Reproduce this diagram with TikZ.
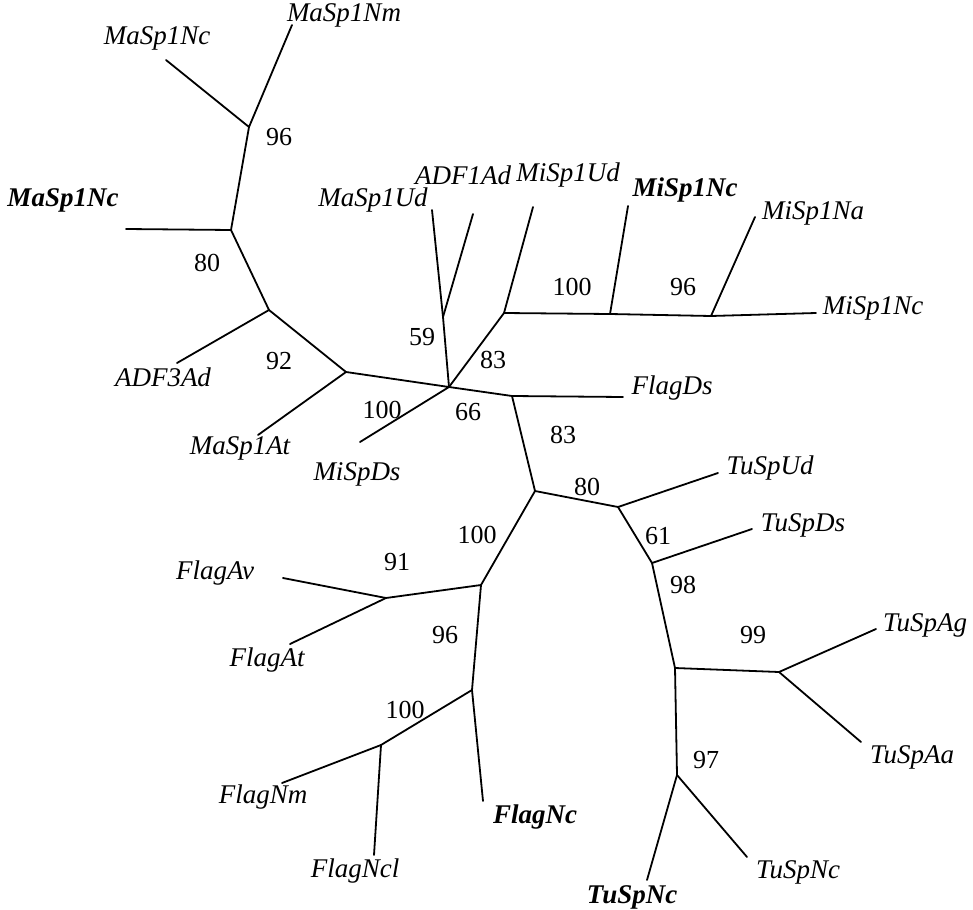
\documentclass[tikz,border=0pt]{standalone}
\usepackage{fontspec}
\setmainfont{Liberation Serif}
\begin{document}
\begin{tikzpicture}[x=1pt,y=-1pt,
  br/.style={line width=1.8pt,line cap=round,line join=round},
  leaf/.style={inner sep=0pt,font=\fontsize{27}{30}\selectfont\itshape},
  bleaf/.style={inner sep=0pt,font=\fontsize{27}{30}\selectfont\bfseries\itshape},
  boot/.style={inner sep=0pt,font=\fontsize{26}{29}\selectfont}]
\useasboundingbox (0,0) rectangle (973,909);
% internal nodes
\coordinate (A) at (249,127);
\coordinate (B) at (231,230);
\coordinate (C) at (269,310);
\coordinate (D) at (346,372);
\coordinate (E) at (449,387);
\coordinate (F) at (443,317);
\coordinate (G) at (504,313);
\coordinate (H) at (610,314);
\coordinate (J) at (711,316);
\coordinate (I) at (512,396);
\coordinate (K) at (535,491);
\coordinate (L) at (481,585);
\coordinate (M) at (386,598);
\coordinate (N) at (472,690);
\coordinate (O) at (381,745);
\coordinate (P) at (618,507);
\coordinate (Q) at (652,563);
\coordinate (R) at (675,668);
\coordinate (S) at (779,672);
\coordinate (T) at (677,775);
% leaf ends
\coordinate (lMaNcT) at (166,60);
\coordinate (lMaNm) at (292,25);
\coordinate (lMaNcB) at (126,229);
\coordinate (lADF3) at (177,363);
\coordinate (lMaAt) at (258,435);
\coordinate (lMiDs) at (360,442);
\coordinate (lMaUd) at (432,210);
\coordinate (lADF1) at (473,214);
\coordinate (lMiUd) at (533,207);
\coordinate (lMiNcB) at (628,206);
\coordinate (lMiNa) at (755,217);
\coordinate (lMiNc) at (816,313);
\coordinate (lFDs) at (623,397);
\coordinate (lTUd) at (718,473);
\coordinate (lTDs) at (752,529);
\coordinate (lTAg) at (876,629);
\coordinate (lTAa) at (861,742);
\coordinate (lTNcB) at (647,880);
\coordinate (lTNc) at (747,857);
\coordinate (lFAv) at (283,578);
\coordinate (lFAt) at (290,644);
\coordinate (lFNcB) at (483,801);
\coordinate (lFNm) at (282,783);
\coordinate (lFNcl) at (374,855);
% branches
\draw[br] (lMaNcT) -- (A) -- (lMaNm);
\draw[br] (A) -- (B) -- (lMaNcB);
\draw[br] (B) -- (C) -- (lADF3);
\draw[br] (C) -- (D) -- (lMaAt);
\draw[br] (D) -- (E) -- (lMiDs);
\draw[br] (E) -- (F) -- (lMaUd);
\draw[br] (F) -- (lADF1);
\draw[br] (E) -- (G) -- (lMiUd);
\draw[br] (G) -- (H) -- (lMiNcB);
\draw[br] (H) -- (J) -- (lMiNa);
\draw[br] (J) -- (lMiNc);
\draw[br] (E) -- (I) -- (lFDs);
\draw[br] (I) -- (K) -- (L) -- (M) -- (lFAv);
\draw[br] (M) -- (lFAt);
\draw[br] (L) -- (N) -- (lFNcB);
\draw[br] (N) -- (O) -- (lFNm);
\draw[br] (O) -- (lFNcl);
\draw[br] (K) -- (P) -- (lTUd);
\draw[br] (P) -- (Q) -- (lTDs);
\draw[br] (Q) -- (R) -- (S) -- (lTAg);
\draw[br] (S) -- (lTAa);
\draw[br] (R) -- (T) -- (lTNcB);
\draw[br] (T) -- (lTNc);
% leaf labels
\node[leaf] (tMaNcT) at (157,38) {MaSp1Nc};
\node[leaf] (tMaNm) at (344,15) {MaSp1Nm};
\node[bleaf] (tMaNcB) at (63,200) {MaSp1Nc};
\node[leaf] (tADF3) at (163,377) {ADF3Ad};
\node[leaf] (tMaAt) at (240,448) {MaSp1At};
\node[leaf] (tMiDs) at (357,474) {MiSpDs};
\node[leaf] (tMaUd) at (373,200) {MaSp1Ud};
\node[leaf] (tADF1) at (463,175) {ADF1Ad};
\node[leaf] (tMiUd) at (568,175) {MiSp1Ud};
\node[bleaf] (tMiNcB) at (685,190) {MiSp1Nc};
\node[leaf] (tMiNa) at (813,213) {MiSp1Na};
\node[leaf] (tMiNc) at (873,308) {MiSp1Nc};
\node[leaf] (tFDs) at (672,388) {FlagDs};
\node[leaf] (tTUd) at (770,468) {TuSpUd};
\node[leaf] (tTDs) at (803,525) {TuSpDs};
\node[leaf] (tTAg) at (925,625) {TuSpAg};
\node[leaf] (tTAa) at (912,757) {TuSpAa};
\node[leaf] (tTNc) at (798,872) {TuSpNc};
\node[bleaf] (tTNcB) at (632,897) {TuSpNc};
\node[bleaf] (tFNcB) at (535,817) {FlagNc};
\node[leaf] (tFNcl) at (355,871) {FlagNcl};
\node[leaf] (tFNm) at (263,797) {FlagNm};
\node[leaf] (tFAt) at (267,660) {FlagAt};
\node[leaf] (tFAv) at (215,573) {FlagAv};
% bootstrap values
\node[boot] (bA) at (279,137) {96};
\node[boot] (bB) at (207,263) {80};
\node[boot] (bC) at (279,361) {92};
\node[boot] (bD) at (382,410) {100};
\node[boot] (bF) at (422,337) {59};
\node[boot] (bG) at (493,360) {83};
\node[boot] (bE) at (468,412) {66};
\node[boot] (bH) at (572,287) {100};
\node[boot] (bJ) at (683,287) {96};
\node[boot] (bI) at (563,435) {83};
\node[boot] (bP) at (587,487) {80};
\node[boot] (bL) at (477,535) {100};
\node[boot] (bM) at (397,562) {91};
\node[boot] (bN) at (445,635) {96};
\node[boot] (bO) at (405,710) {100};
\node[boot] (bQ) at (658,536) {61};
\node[boot] (bR) at (683,585) {98};
\node[boot] (bS) at (753,635) {99};
\node[boot] (bT) at (706,760) {97};
\end{tikzpicture}
\end{document}
